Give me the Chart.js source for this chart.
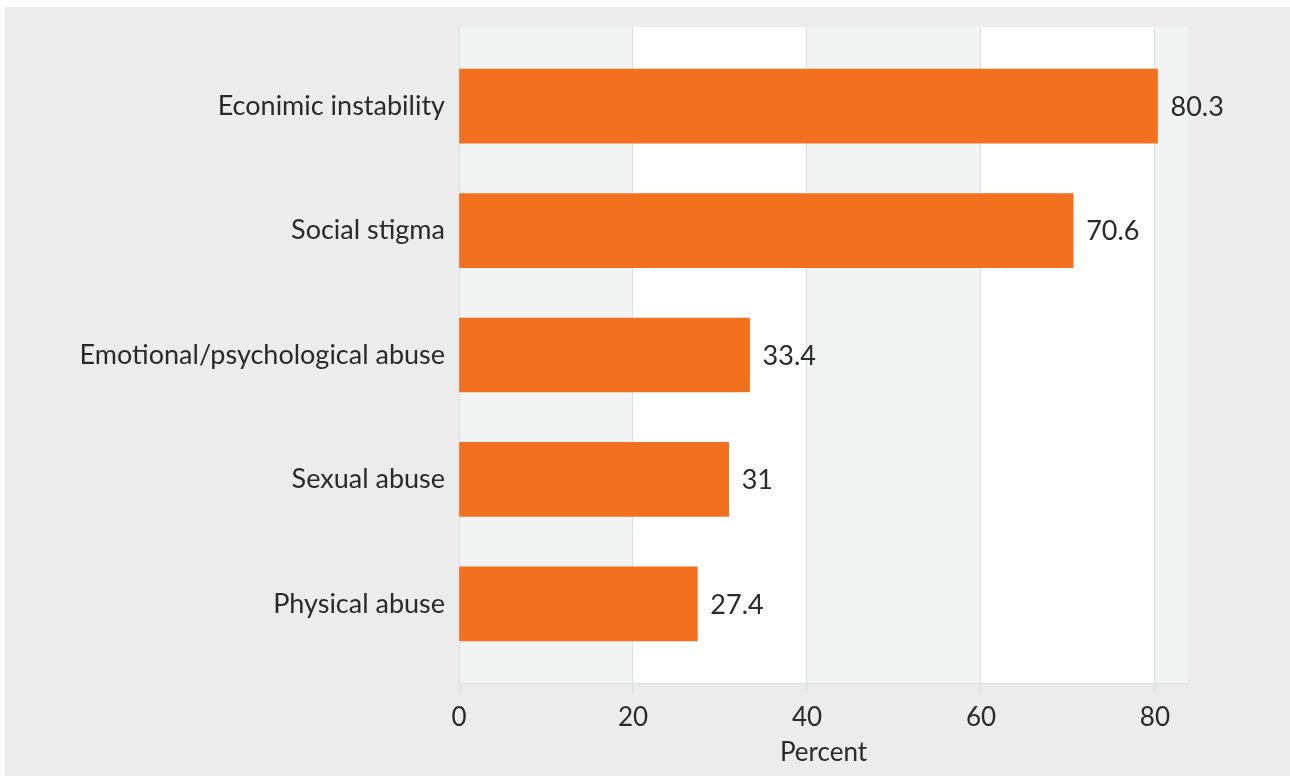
<!DOCTYPE html>
<html>
<head>
<meta charset="utf-8">
<script src="https://cdn.jsdelivr.net/npm/chart.js@4"></script>
<style>
  html, body { margin: 0; padding: 0; background: #fff; }
  #wrap { width: 1290px; height: 776px; }
</style>
</head>
<body>
<div id="wrap"><canvas id="myChart"></canvas></div>
<script>
const categories = ['Econimic instability', 'Social stigma', 'Emotional/psychological abuse', 'Sexual abuse', 'Physical abuse'];
const percent = [80.3, 70.6, 33.4, 31, 27.4];
const xTicks = [0, 20, 40, 60, 80];

const barColor = '#f37021';
const gridColor = '#dcdde1';
const textColor = '#2a2a2a';
const fontFamily = 'Lato, "Open Sans", sans-serif';

// page background: white strip at top/left, grey panel, banded plot area
const backdrop = {
  id: 'backdrop',
  beforeDraw(chart) {
    const ctx = chart.ctx;
    const {left, right, top, bottom} = chart.chartArea;
    const x = chart.scales.x;
    ctx.save();
    ctx.fillStyle = '#ffffff';
    ctx.fillRect(0, 0, chart.width, chart.height);
    ctx.fillStyle = '#ececec';
    ctx.fillRect(5, 7, chart.width - 5, chart.height - 7);
    const edges = xTicks.map(v => x.getPixelForValue(v)).concat([right]);
    for (let i = 0; i < edges.length - 1; i++) {
      ctx.fillStyle = i % 2 === 0 ? '#f2f3f3' : '#ffffff';
      ctx.fillRect(edges[i], top, edges[i + 1] - edges[i], bottom - top);
    }
    ctx.restore();
  }
};

const valueLabels = {
  id: 'valueLabels',
  afterDatasetsDraw(chart) {
    const ctx = chart.ctx;
    const meta = chart.getDatasetMeta(0);
    ctx.save();
    ctx.fillStyle = textColor;
    ctx.font = '27px ' + fontFamily;
    ctx.textAlign = 'left';
    ctx.textBaseline = 'middle';
    meta.data.forEach((bar, i) => {
      ctx.fillText(String(percent[i]), bar.x + 13, bar.y + 1);
    });
    ctx.restore();
  }
};

new Chart(document.getElementById('myChart'), {
  type: 'bar',
  data: {
    datasets: [{
      data: percent.map((v, i) => ({x: v, y: i})),
      backgroundColor: barColor,
      borderWidth: 0,
      barThickness: 74
    }]
  },
  options: {
    indexAxis: 'y',
    responsive: true,
    maintainAspectRatio: false,
    animation: false,
    layout: { padding: { top: 27, right: 102, left: 0, bottom: 0 } },
    plugins: { legend: { display: false }, tooltip: { enabled: false } },
    scales: {
      x: {
        type: 'linear',
        min: 0,
        max: 83.8,
        afterBuildTicks: s => { s.ticks = xTicks.map(v => ({value: v})); },
        afterFit: s => { s.height = 93; },
        grid: { color: gridColor, lineWidth: 1, tickLength: 12, drawOnChartArea: true },
        border: { display: true, color: gridColor },
        ticks: { color: textColor, font: { family: fontFamily, size: 26 }, padding: 7 },
        title: { display: true, text: 'Percent', color: textColor, font: { family: fontFamily, size: 26 }, padding: { top: 0, bottom: 8 } }
      },
      y: {
        type: 'linear',
        offset: false,
        min: -0.636,
        max: 4.636,
        reverse: true,
        afterBuildTicks: s => { s.ticks = categories.map((c, i) => ({value: i})); },
        afterFit: s => { s.width = 459; },
        grid: { display: false },
        border: { display: false },
        ticks: {
          color: textColor,
          font: { family: fontFamily, size: 27 },
          padding: 6,
          callback: v => categories[v]
        }
      }
    }
  },
  plugins: [backdrop, valueLabels]
});
</script>
</body>
</html>
